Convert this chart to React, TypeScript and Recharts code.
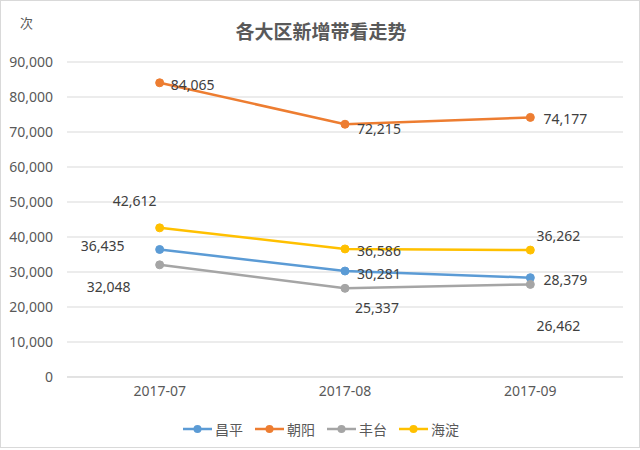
import React from 'react';
import { LineChart, Line, XAxis, YAxis, CartesianGrid } from 'recharts';

// categories and series values
const months = ['2017-07', '2017-08', '2017-09'];
const changping = [36435, 30281, 28379];
const chaoyang = [84065, 72215, 74177];
const fengtai = [32048, 25337, 26462];
const haidian = [42612, 36586, 36262];
const yTicks = [0, 10000, 20000, 30000, 40000, 50000, 60000, 70000, 80000, 90000];

const data = months.map((m, i) => ({
  month: m,
  changping: changping[i],
  chaoyang: chaoyang[i],
  fengtai: fengtai[i],
  haidian: haidian[i],
}));

const FONT = "'Noto Sans', 'Noto Sans CJK SC', sans-serif";
const TEXT = '#595959';

// where Excel put each data label, relative to its point
const labelOffsets: Record<string, [number, number][]> = {
  changping: [[-57, -4], [34, 2], [35, 2]],
  chaoyang: [[33, 2], [34, 4], [35, 1]],
  fengtai: [[-51, 22], [32, 19], [28, 41]],
  haidian: [[-25, -27], [34, 2], [28, -15]],
};

const series = [
  { key: 'changping', name: '昌平', color: '#5B9BD5' },
  { key: 'chaoyang', name: '朝阳', color: '#ED7D31' },
  { key: 'fengtai', name: '丰台', color: '#A5A5A5' },
  { key: 'haidian', name: '海淀', color: '#FFC000' },
];

const makeLabel = (key: string) => (props: any) => {
  const { x, y, index, value } = props;
  const [dx, dy] = labelOffsets[key][index] || [0, 0];
  return (
    <text
      x={x + dx}
      y={y + dy}
      textAnchor="middle"
      dominantBaseline="central"
      fill="#404040"
      fontSize={14}
      fontFamily={FONT}
    >
      {Number(value).toLocaleString('en-US')}
    </text>
  );
};

const LegendRow = () => (
  <div
    style={{
      position: 'absolute',
      top: 418,
      left: 0,
      width: 640,
      display: 'flex',
      justifyContent: 'center',
      gap: 12,
      fontFamily: FONT,
      fontSize: 14,
      color: TEXT,
    }}
  >
    {series.map(s => (
      <div key={s.key} style={{ display: 'flex', alignItems: 'center', gap: 3 }}>
        <svg width={29} height={10}>
          <line x1={0} y1={5} x2={29} y2={5} stroke={s.color} strokeWidth={2.5} />
          <circle cx={14.5} cy={5} r={4} fill={s.color} />
        </svg>
        <span>{s.name}</span>
      </div>
    ))}
  </div>
);

const App: React.FC = () => {
  return (
    <div
      style={{
        position: 'absolute',
        left: 0,
        top: 0,
        width: 638,
        height: 446,
        border: '1px solid #D9D9D9',
        background: '#fff',
        fontFamily: FONT,
      }}
    >
      <div style={{ position: 'absolute', left: 19, top: 12, fontSize: 13, color: TEXT }}>次</div>
      <div
        style={{
          position: 'absolute',
          top: 16,
          left: 0,
          width: 640,
          textAlign: 'center',
          fontSize: 19,
          fontWeight: 'bold',
          color: TEXT,
          fontFamily: "'Noto Sans CJK SC', sans-serif",
        }}
      >
        各大区新增带看走势
      </div>
      <div style={{ position: 'absolute', left: -1, top: -1 }}>
        <LineChart width={640} height={450} data={data} margin={{ top: 62, right: 17, left: 0, bottom: 0 }}>
          <CartesianGrid vertical={false} stroke="#D9D9D9" />
          <XAxis
            dataKey="month"
            scale="band"
            height={73}
            axisLine={{ stroke: '#D9D9D9' }}
            tickLine={false}
            tickSize={0}
            tickMargin={9}
            tick={{ fill: TEXT, fontSize: 14, fontFamily: FONT }}
          />
          <YAxis
            width={67}
            domain={[0, 90000]}
            ticks={yTicks}
            axisLine={false}
            tickLine={false}
            tickSize={0}
            tickMargin={14}
            tick={{ fill: TEXT, fontSize: 14, fontFamily: FONT }}
            tickFormatter={(v: number) => v.toLocaleString('en-US')}
          />
          {series.map(s => (
            <Line
              key={s.key}
              dataKey={s.key}
              name={s.name}
              stroke={s.color}
              strokeWidth={2.5}
              dot={{ r: 4, fill: s.color, stroke: s.color, strokeWidth: 1 }}
              activeDot={false}
              label={makeLabel(s.key)}
              isAnimationActive={false}
            />
          ))}
        </LineChart>
      </div>
      <LegendRow />
    </div>
  );
};

export default App;
